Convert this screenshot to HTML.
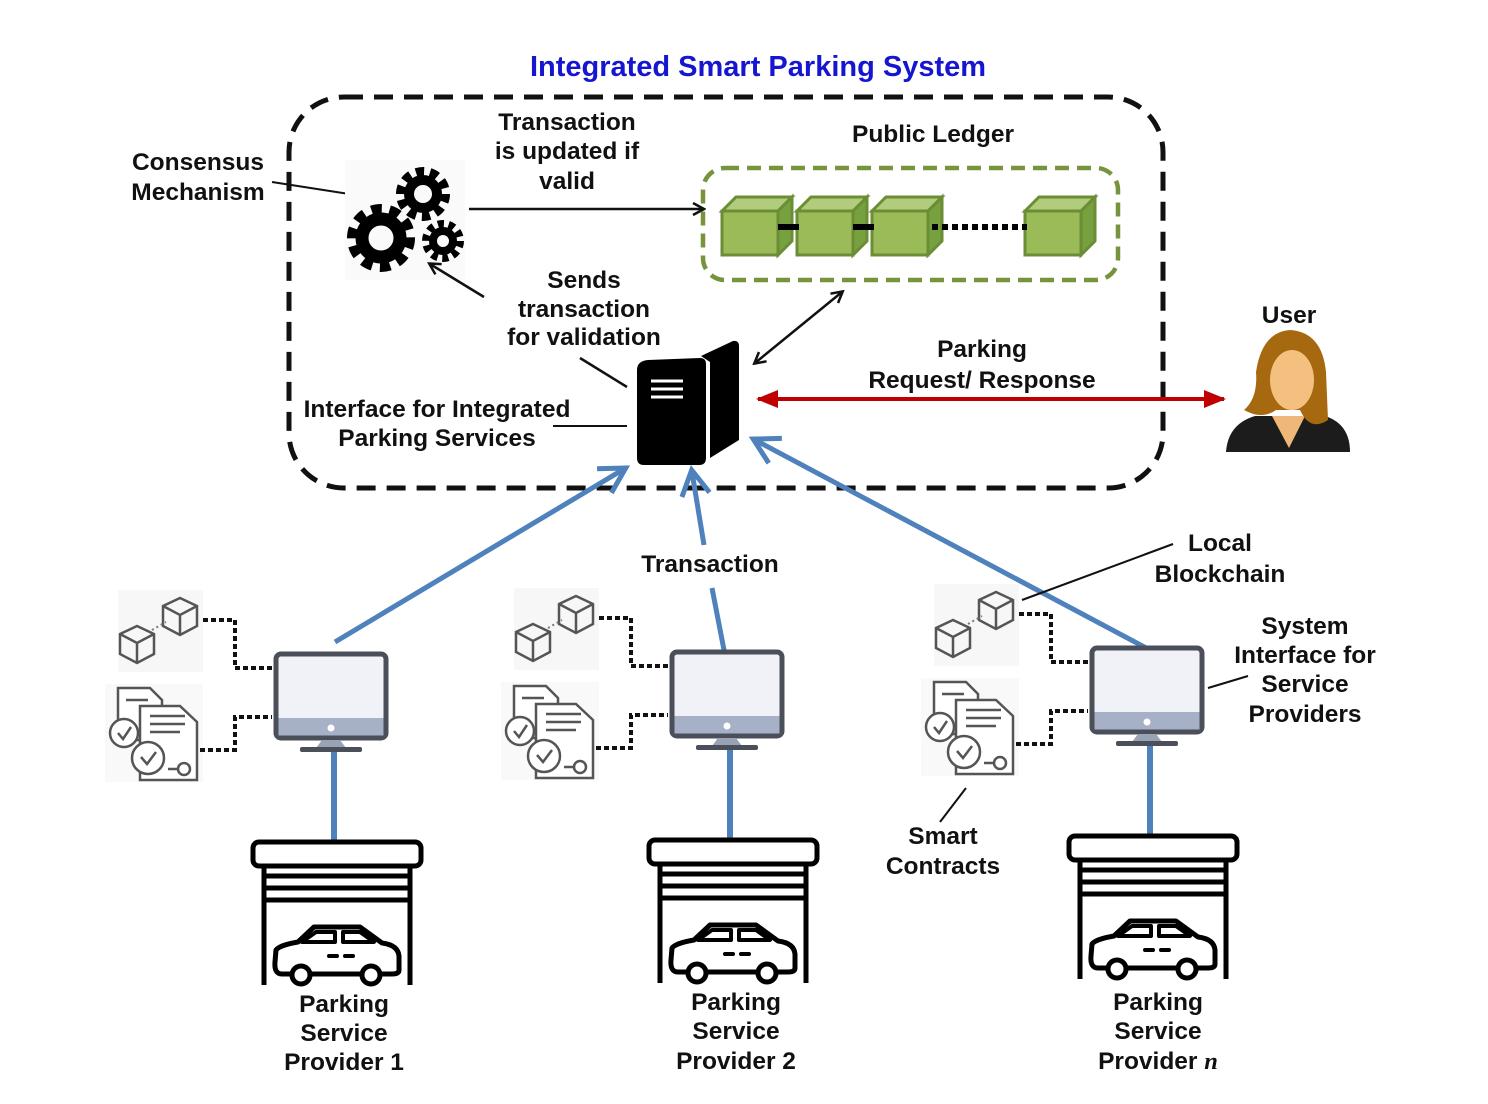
<!DOCTYPE html>
<html><head><meta charset="utf-8"><style>
html,body{margin:0;padding:0;background:#fff;}
svg{display:block;}
text{font-family:"Liberation Sans",Arial,sans-serif;font-weight:bold;font-size:24.5px;fill:#111;text-anchor:middle;}
</style></head><body>
<svg width="1488" height="1104" viewBox="0 0 1488 1104" xmlns="http://www.w3.org/2000/svg">
<defs>
<marker id="ah" markerWidth="14" markerHeight="14" refX="11" refY="7" orient="auto-start-reverse" markerUnits="userSpaceOnUse"><path d="M1,1 L12,7 L1,13" fill="none" stroke="#111" stroke-width="2.5"/></marker>
<marker id="ahb" markerWidth="34" markerHeight="34" refX="25" refY="17" orient="auto" markerUnits="userSpaceOnUse"><path d="M2,3 L27,17 L2,31" fill="none" stroke="#4f81bd" stroke-width="5"/></marker>
<marker id="ahr" markerWidth="24" markerHeight="24" refX="20" refY="12" orient="auto-start-reverse" markerUnits="userSpaceOnUse"><path d="M0,3 L22,12 L0,21 Z" fill="#c00000"/></marker>
<g id="gcube" stroke="#6b8e35" stroke-width="3">
<path d="M0,14 L14,0 L70,0 L56,14 Z" fill="#b0cc7c"/>
<path d="M56,14 L70,0 L70,44 L56,58 Z" fill="#77a03e"/>
<rect x="0" y="14" width="56" height="44" fill="#9bbb59"/>
</g>
<g id="ocube" fill="none" stroke="#555" stroke-width="2.5">
<path d="M0,8 L17,0 L34,8 L34,28 L17,37 L0,28 Z"/><path d="M0,8 L17,17 L34,8 M17,17 L17,37"/>
</g>
<g id="prov">
<rect x="118" y="590" width="85" height="82" fill="#f7f7f7"/>
<use href="#ocube" x="120" y="626"/><use href="#ocube" x="163" y="598"/>
<line x1="152" y1="630" x2="166" y2="622" stroke="#777" stroke-width="2" stroke-dasharray="2 3"/>
<rect x="105" y="684" width="98" height="98" fill="#f9f9f9"/>
<g fill="#fff" stroke="#555" stroke-width="2.5">
<path d="M118,688 L150,688 L162,700 L162,740 L118,740 Z"/>
<path d="M140,706 L180,706 L197,722 L197,780 L140,780 Z"/>
<circle cx="124" cy="733" r="14"/><circle cx="148" cy="758" r="16"/>
<circle cx="184" cy="769" r="6"/>
<path d="M118,733 L123,739 L131,727 M141,757 L147,764 L156,752" fill="none"/>
<path d="M150,716 L185,716 M150,724 L185,724 M150,732 L180,732 M126,700 L148,700 M168,769 L177,769" fill="none"/>
</g>
<path d="M203,620 L235,620 L235,668 L272,668 M200,750 L235,750 L235,717 L272,717" fill="none" stroke="#111" stroke-width="4" stroke-dasharray="5 3"/>
<rect x="276" y="654" width="110" height="84" rx="5" fill="#f1f1f8" stroke="#4a4f5a" stroke-width="5"/>
<rect x="278.5" y="718" width="105" height="17.5" fill="#a6b0c6"/>
<circle cx="331" cy="728" r="3.5" fill="#fff"/>
<path d="M322,740 L340,740 L346,748 L316,748 Z" fill="#9aa3b5"/>
<rect x="300" y="747" width="62" height="5" rx="2" fill="#4a4f5a"/>
<line x1="334" y1="752" x2="334" y2="840" stroke="#4f81bd" stroke-width="6"/>
<rect x="253" y="842" width="168" height="24" rx="6" fill="#fff" stroke="#000" stroke-width="5"/>
<path d="M264,866 L264,985 M410,866 L410,985 M264,876 L410,876 M264,888 L410,888 M264,900 L410,900" stroke="#000" stroke-width="5" fill="none"/>
<path d="M282,974 Q274,974 275,962 L276,950 Q280,945 298,942 L314,927 L360,927 L382,943 Q398,945 399,956 L399,970 Q399,974 392,974 Z" fill="#fff" stroke="#000" stroke-width="5" stroke-linejoin="round"/>
<path d="M302,942 L316,932 L335,932 L335,942 Z M343,932 L360,932 L374,942 L343,942 Z" fill="none" stroke="#000" stroke-width="4" stroke-linejoin="round"/>
<path d="M329,956 L337,956 M345,956 L353,956" stroke="#000" stroke-width="4" stroke-linecap="round"/>
<circle cx="301" cy="975" r="9" fill="#fff" stroke="#000" stroke-width="5"/>
<circle cx="371" cy="975" r="9" fill="#fff" stroke="#000" stroke-width="5"/>
</g>
</defs>

<text x="758" y="76" style="fill:#1616d0;font-size:29px;">Integrated Smart Parking System</text>
<rect x="289" y="97" width="874" height="391" rx="55" fill="none" stroke="#111" stroke-width="5" stroke-dasharray="19 11"/>

<text x="198" y="170">Consensus</text><text x="198" y="200">Mechanism</text>
<line x1="272" y1="182" x2="362" y2="196" stroke="#111" stroke-width="2"/>
<text x="567" y="130">Transaction</text><text x="567" y="159">is updated if</text><text x="567" y="189">valid</text>
<text x="933" y="142">Public Ledger</text>
<text x="584" y="288">Sends</text><text x="584" y="317">transaction</text><text x="584" y="345">for validation</text>
<text x="437" y="417">Interface for Integrated</text><text x="437" y="446">Parking Services</text>
<text x="982" y="357">Parking</text><text x="982" y="388">Request/ Response</text>
<text x="1289" y="323">User</text>

<!-- gears -->
<rect x="345" y="160" width="120" height="120" fill="#fafafa"/>
<g fill="none" stroke="#000">
<circle cx="381" cy="238" r="28" stroke-width="12" stroke-dasharray="10 7.5"/><circle cx="381" cy="238" r="19" stroke-width="13"/>
<circle cx="423" cy="194" r="22" stroke-width="10" stroke-dasharray="8 5.8"/><circle cx="423" cy="194" r="14" stroke-width="10"/>
<circle cx="443" cy="241" r="17" stroke-width="8" stroke-dasharray="6 4.7"/><circle cx="443" cy="241" r="10" stroke-width="8"/>
</g>
<line x1="469" y1="209" x2="703" y2="209" stroke="#111" stroke-width="2.5" marker-end="url(#ah)"/>
<line x1="484" y1="297" x2="430" y2="264" stroke="#111" stroke-width="2.5" marker-end="url(#ah)"/>
<line x1="580" y1="358" x2="627" y2="387" stroke="#111" stroke-width="2.5"/>
<line x1="553" y1="426" x2="627" y2="426" stroke="#111" stroke-width="2"/>

<!-- ledger -->
<rect x="703" y="168" width="415" height="112" rx="22" fill="none" stroke="#77933c" stroke-width="4.5" stroke-dasharray="14 8"/>
<use href="#gcube" x="722" y="197"/><use href="#gcube" x="797" y="197"/><use href="#gcube" x="872" y="197"/><use href="#gcube" x="1025" y="197"/>
<line x1="778" y1="227" x2="799" y2="227" stroke="#000" stroke-width="6"/>
<line x1="853" y1="227" x2="874" y2="227" stroke="#000" stroke-width="6"/>
<line x1="932" y1="227" x2="1027" y2="227" stroke="#000" stroke-width="6" stroke-dasharray="6 4"/>

<!-- server -->
<path d="M648,360 L700,358 Q706,358 706,364 L706,458 Q706,465 699,465 L644,465 Q637,465 637,458 L637,370 Q637,361 648,360 Z" fill="#000"/>
<path d="M701,356 L733,341 Q739,340 739,346 L739,440 L710,458 L710,362 Z" fill="#000"/>
<path d="M651,381 L683,381 M651,389 L683,389 M651,397 L683,397" stroke="#fff" stroke-width="3"/>
<line x1="842" y1="292" x2="755" y2="363" stroke="#111" stroke-width="2.5" marker-start="url(#ah)" marker-end="url(#ah)"/>
<line x1="758" y1="399" x2="1224" y2="399" stroke="#c00000" stroke-width="4" marker-start="url(#ahr)" marker-end="url(#ahr)"/>

<!-- user -->
<path d="M1226,452 Q1228,424 1255,416 L1325,416 Q1350,424 1350,452 Z" fill="#1c1c1c"/>
<path d="M1272,416 L1289,448 L1305,416 Z" fill="#f0b878"/>
<path d="M1290,330 Q1322,332 1326,372 L1328,420 Q1310,432 1300,410 L1276,410 Q1262,420 1244,410 Q1258,398 1256,372 Q1262,332 1290,330 Z" fill="#a6690f"/>
<ellipse cx="1292" cy="380" rx="22" ry="30" fill="#f4c080"/>

<!-- blue arrows -->
<line x1="335" y1="642" x2="624" y2="469" stroke="#4f81bd" stroke-width="5" marker-end="url(#ahb)"/>
<line x1="724" y1="650" x2="712" y2="588" stroke="#4f81bd" stroke-width="5"/>
<line x1="704" y1="545" x2="692" y2="472" stroke="#4f81bd" stroke-width="5" marker-end="url(#ahb)"/>
<line x1="1150" y1="650" x2="755" y2="440" stroke="#4f81bd" stroke-width="5" marker-end="url(#ahb)"/>
<text x="710" y="572">Transaction</text>

<use href="#prov"/>
<use href="#prov" x="396" y="-2"/>
<use href="#prov" x="816" y="-6"/>

<line x1="1022" y1="600" x2="1173" y2="544" stroke="#111" stroke-width="2"/>
<line x1="1208" y1="688" x2="1248" y2="676" stroke="#111" stroke-width="2"/>
<line x1="940" y1="822" x2="966" y2="788" stroke="#111" stroke-width="2"/>
<text x="1220" y="551">Local</text><text x="1220" y="582">Blockchain</text>
<text x="1305" y="634">System</text><text x="1305" y="663">Interface for</text><text x="1305" y="692">Service</text><text x="1305" y="722">Providers</text>
<text x="943" y="844">Smart</text><text x="943" y="874">Contracts</text>

<text x="344" y="1012">Parking</text><text x="344" y="1041">Service</text><text x="344" y="1070">Provider 1</text>
<text x="736" y="1010">Parking</text><text x="736" y="1039">Service</text><text x="736" y="1069">Provider 2</text>
<text x="1158" y="1010">Parking</text><text x="1158" y="1039">Service</text><text x="1158" y="1069">Provider <tspan style="font-family:'Liberation Serif',serif;font-style:italic;">n</tspan></text>
</svg>
</body></html>
